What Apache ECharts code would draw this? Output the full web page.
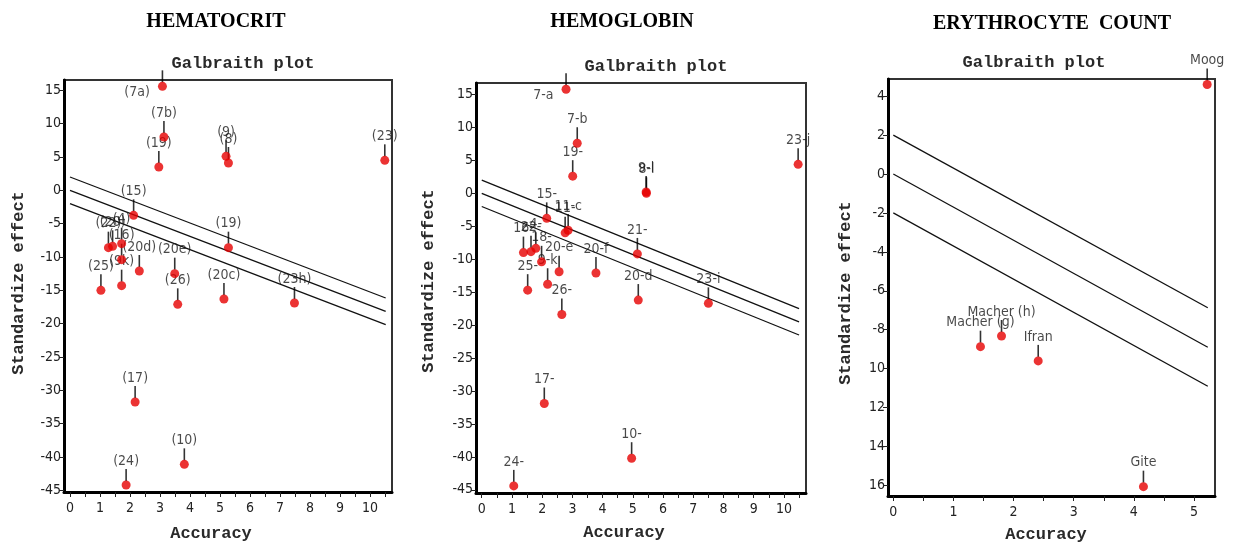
<!DOCTYPE html>
<html>
<head>
<meta charset="utf-8">
<script src="https://cdn.jsdelivr.net/npm/echarts@6/dist/echarts.min.js"></script>
<style>
html,body{margin:0;padding:0;background:#fff;}
#chart{width:1235px;height:543px;}
</style>
</head>
<body>
<div id="chart"></div>
<script>
// ---------- DATA ----------
var panelTitles = ['HEMATOCRIT', 'HEMOGLOBIN', 'ERYTHROCYTE  COUNT'];
var subTitle = 'Galbraith plot';
var yName = 'Standardize effect';
var xName = 'Accuracy';

var hctNames = ['(7a)','(7b)','(19)','(9)','(8)','(23)','(15)','(19)','(22)','(20)','(4)','(16)','(20d)','(20e)','(9k)','(25)','(26)','(20c)','(23h)','(17)','(10)','(24)'];
var hctX = [3.08,3.13,2.96,5.20,5.28,10.49,2.12,5.28,1.28,1.42,1.72,1.72,2.31,3.49,1.72,1.03,3.59,5.13,7.48,2.17,3.81,1.87];
var hctY = [15.6,8.0,3.5,5.1,4.1,4.5,-3.75,-8.6,-8.6,-8.4,-8.0,-10.4,-12.1,-12.5,-14.3,-15.0,-17.1,-16.3,-16.9,-31.75,-41.1,-44.2];

var hgbNames = ['7-a','7-b','19-','9-l','8-l','23-j','15-','11-','11-c','21-','16-','22-','4-','18-','20-e','20-f','9-k','25-','26-','20-d','23-i','17-','10-','24-'];
var hgbX = [2.79,3.16,3.01,5.44,5.45,10.47,2.15,2.76,2.86,5.15,1.38,1.63,1.79,1.98,2.56,3.78,2.18,1.52,2.65,5.18,7.50,2.07,4.96,1.06];
var hgbY = [15.8,7.6,2.6,0.2,0.0,4.4,-3.8,-6.0,-5.6,-9.2,-9.0,-8.85,-8.35,-10.4,-11.9,-12.1,-13.8,-14.7,-18.4,-16.2,-16.7,-31.9,-40.2,-44.4];

var eryNames = ['Moog','Macher (g)','Macher (h)','Ifran','Gite'];
var eryX = [5.22,1.45,1.80,2.41,4.16];
var eryY = [4.6,-8.87,-8.32,-9.6,-16.06];

// Galbraith band lines (endpoints)
var hctLines = [[[0,2],[10.52,-16.15]], [[0,0],[10.52,-18.15]], [[0,-2],[10.52,-20.15]]];
var hgbLines = [[[0,2],[10.5,-17.5]], [[0,0],[10.5,-19.5]], [[0,-2],[10.5,-21.5]]];
var eryLines = [[[0,2],[5.23,-6.87]], [[0,0],[5.23,-8.9]], [[0,-2],[5.23,-10.9]]];

// Tick values / labels
var hctXTicks = [0,1,2,3,4,5,6,7,8,9,10];
var hctYTicks = [-45,-40,-35,-30,-25,-20,-15,-10,-5,0,5,10,15];
var hgbXTicks = [0,1,2,3,4,5,6,7,8,9,10];
var hgbYTicks = [-45,-40,-35,-30,-25,-20,-15,-10,-5,0,5,10,15];
var eryXTicks = [0,1,2,3,4,5];
var eryYTicks = [4,2,0,-2,-4,-6,-8,-10,-12,-14,-16];
var eryYTickLabels = ['4','2','0','-2','-4','-6','-8','10','12','14','16'];

// labels drawn to the left of their point
var leftLabels = ['(7a)','7-a'];

// ---------- BUILD ----------
var chart = echarts.init(document.getElementById('chart'), null, {renderer:'canvas'});

var tickFont = '"Liberation Sans Narrow","Arial Narrow","DejaVu Sans Condensed",sans-serif';
var monoFont = '"Liberation Mono","Courier New","DejaVu Sans Mono",monospace';
var serifFont = '"Liberation Serif","Times New Roman",serif';

var panels = [
  {grid:{left:64, top:80, width:328, height:412}, x:[-0.2,10.73], y:[-45.25,16.55],
   names:hctNames, xs:hctX, ys:hctY, lines:hctLines, xt:hctXTicks, yt:hctYTicks, ylab:null,
   title:{cx:211, ty:7}, sub:{cx:238, ty:50}, yname:{x:19, y:283}, xname:{x:211, y:534}},
  {grid:{left:476, top:83, width:330, height:410}, x:[-0.19,10.73], y:[-45.48,16.74],
   names:hgbNames, xs:hgbX, ys:hgbY, lines:hgbLines, xt:hgbXTicks, yt:hgbYTicks, ylab:null,
   title:{cx:617, ty:7}, sub:{cx:651, ty:53}, yname:{x:429, y:281}, xname:{x:624, y:533}},
  {grid:{left:888, top:79, width:327, height:417}, x:[-0.088,5.35], y:[-16.54,4.88],
   names:eryNames, xs:eryX, ys:eryY, lines:eryLines, xt:eryXTicks, yt:eryYTicks, ylab:eryYTickLabels,
   title:{cx:1047, ty:9}, sub:{cx:1029, ty:49}, yname:{x:846, y:293}, xname:{x:1046, y:535}}
];

var grids = [], xAxes = [], yAxes = [], series = [], titles = [], graphics = [];

panels.forEach(function(p, i){
  grids.push(Object.assign({show:true, borderColor:'#333', borderWidth:2, containLabel:false}, p.grid));
  var halfTicks = [];
  for (var k = 0; k < p.xt.length; k++) {
    halfTicks.push(p.xt[k]);
    if (k < p.xt.length - 1) halfTicks.push((p.xt[k] + p.xt[k+1]) / 2);
  }
  halfTicks.push(p.xt[p.xt.length-1] + 0.5);
  halfTicks = halfTicks.filter(function(v){ return v <= p.x[1]; });
  xAxes.push({
    gridIndex:i, type:'value', min:p.x[0], max:p.x[1],
    axisLine:{show:true, onZero:false, lineStyle:{color:'#000', width:3}},
    axisTick:{show:true, inside:false, length:5, customValues:halfTicks, lineStyle:{color:'#222', width:1}},
    axisLabel:{show:true, customValues:p.xt, margin:9, color:'#222', fontFamily:tickFont, fontSize:14},
    splitLine:{show:false}
  });
  var ylab = p.ylab, yt = p.yt;
  yAxes.push({
    gridIndex:i, type:'value', min:p.y[0], max:p.y[1],
    axisLine:{show:true, onZero:false, lineStyle:{color:'#000', width:3}},
    axisTick:{show:true, inside:false, length:5, customValues:p.yt, lineStyle:{color:'#222', width:1}},
    axisLabel:{show:true, customValues:p.yt, margin:3, color:'#222', fontFamily:tickFont, fontSize:14,
      formatter: function(v){
        if (ylab) { var idx = yt.indexOf(v); return idx >= 0 ? ylab[idx] : String(v); }
        return String(v);
      }},
    splitLine:{show:false}
  });

  // band lines
  p.lines.forEach(function(l){
    series.push({type:'line', xAxisIndex:i, yAxisIndex:i, data:l, symbol:'none', silent:true,
      lineStyle:{color:'#111', width:1.3}, z:2});
  });

  var pts = p.xs.map(function(x, k){
    var item = {name:p.names[k], value:[x, p.ys[k]]};
    if (leftLabels.indexOf(p.names[k]) >= 0) {
      item.label = {show:true, position:'left', distance:8, offset:[0,6]};
    }
    return item;
  });

  // leader lines + labels
  var leaders = pts.map(function(d){
    var item = {name:d.name, value:d.value};
    if (leftLabels.indexOf(d.name) >= 0) item.label = {show:false};
    return item;
  });
  series.push({type:'scatter', xAxisIndex:i, yAxisIndex:i, data:leaders, silent:true,
    symbol:'rect', symbolSize:[1.6,12], symbolOffset:[0,-10],
    itemStyle:{color:'#000'},
    label:{show:true, position:'top', distance:1, formatter:'{b}', color:'#1a1a1a',
      fontFamily:tickFont, fontSize:14},
    labelLayout:{hideOverlap:false},
    z:3});
  // points
  series.push({type:'scatter', xAxisIndex:i, yAxisIndex:i, data:pts, silent:true,
    symbol:'circle', symbolSize:9, itemStyle:{color:'#e60000'},
    label:{show:false, formatter:'{b}', color:'#1a1a1a', fontFamily:tickFont, fontSize:14},
    z:4});

  titles.push({text:panelTitles[i], left:p.title.cx, top:p.title.ty, textAlign:'center',
    textStyle:{fontFamily:serifFont, fontWeight:'bold', fontSize:20, color:'#000'}});
  titles.push({text:subTitle, left:p.sub.cx, top:p.sub.ty, textAlign:'center',
    textStyle:{fontFamily:monoFont, fontWeight:'bold', fontSize:17, color:'#2a2a2a'}});

  graphics.push({type:'text', x:p.yname.x, y:p.yname.y, rotation:Math.PI/2,
    style:{text:yName, font:'bold 17px ' + monoFont, fill:'#2a2a2a', textAlign:'center', textVerticalAlign:'middle'}});
  graphics.push({type:'text', x:p.xname.x, y:p.xname.y,
    style:{text:xName, font:'bold 17px ' + monoFont, fill:'#2a2a2a', textAlign:'center', textVerticalAlign:'middle'}});
});

chart.setOption({
  animation:false,
  backgroundColor:'#fff',
  title:titles,
  grid:grids,
  xAxis:xAxes,
  yAxis:yAxes,
  series:series,
  graphic:graphics
});
</script>
</body>
</html>
